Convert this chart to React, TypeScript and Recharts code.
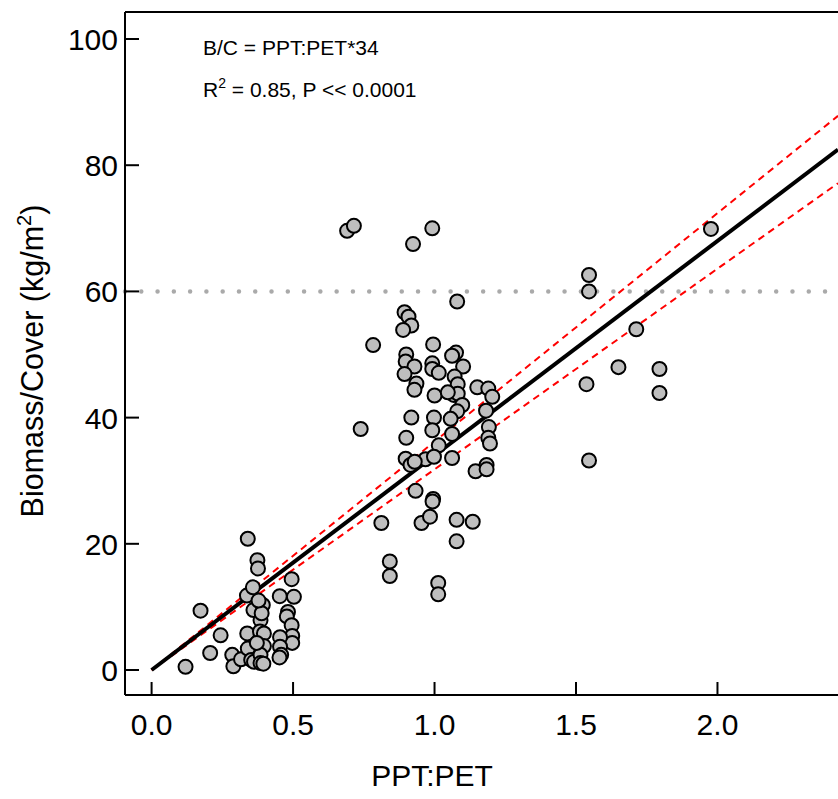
import React from 'react';
import { ScatterChart, Scatter, XAxis, YAxis, ReferenceLine } from 'recharts';

// PPT:PET ratio (x) and Biomass/Cover in kg/m2 (y)
const pptPet = [
  0.120, 0.173, 0.207, 0.244, 0.285, 0.289, 0.316, 0.340, 0.337, 0.358,
  0.338, 0.340, 0.352, 0.360, 0.362, 0.374, 0.376, 0.385, 0.383, 0.393,
  0.389, 0.397, 0.397, 0.385, 0.385, 0.395, 0.372, 0.453, 0.503, 0.495,
  0.482, 0.478, 0.495, 0.497, 0.497, 0.454, 0.454, 0.458, 0.452, 0.378,
  0.691, 0.715, 0.924, 0.992, 1.080, 0.894, 0.908, 0.918, 0.889, 0.783,
  0.995, 0.900, 1.076, 1.062, 0.898, 0.929, 0.992, 0.992, 1.015, 1.101,
  0.894, 1.071, 1.082, 0.936, 0.929, 1.151, 1.190, 1.204, 1.000, 1.068,
  1.082, 1.098, 1.080, 1.182, 0.918, 0.998, 0.992, 0.739, 1.192, 1.190,
  1.196, 0.900, 1.062, 1.015, 1.057, 0.968, 0.898, 1.062, 0.998, 0.915,
  0.930, 1.145, 1.184, 1.184, 0.933, 0.995, 0.993, 0.812, 0.954, 0.984,
  1.078, 1.135, 1.078, 0.842, 0.842, 1.013, 1.013, 1.047,
  1.977, 1.546, 1.546, 1.713, 1.650, 1.795, 1.537, 1.795, 1.546,
];
const biomassCover = [
  0.5, 9.4, 2.7, 5.5, 2.4, 0.6, 1.7, 20.8, 11.8, 13.1,
  5.8, 3.4, 1.6, 9.5, 1.3, 17.4, 16.1, 7.9, 6.1, 10.3,
  9.0, 5.8, 3.8, 2.4, 1.1, 1.0, 4.3, 11.7, 11.6, 14.4,
  9.2, 8.5, 7.1, 5.4, 4.3, 5.2, 3.7, 2.4, 2.0, 11.0,
  69.6, 70.4, 67.5, 70.0, 58.4, 56.7, 56.0, 54.6, 53.9, 51.5,
  51.6, 50.0, 50.3, 49.8, 48.9, 48.1, 48.6, 47.7, 47.1, 48.1,
  46.9, 46.5, 45.3, 45.4, 44.4, 44.8, 44.6, 43.3, 43.5, 43.6,
  43.8, 42.0, 41.0, 41.1, 40.0, 40.0, 38.0, 38.2, 38.5, 36.8,
  35.9, 36.8, 37.4, 35.6, 39.8, 33.4, 33.5, 33.6, 33.8, 32.5,
  33.0, 31.5, 32.5, 31.8, 28.4, 27.1, 26.7, 23.3, 23.3, 24.3,
  23.8, 23.5, 20.4, 17.2, 14.9, 13.8, 12.0, 44.0,
  69.9, 62.6, 60.0, 54.0, 48.0, 47.7, 45.3, 43.9, 33.2,
];

const xTicks = [0, 0.5, 1.0, 1.5, 2.0];
const yTicks = [0, 20, 40, 60, 80, 100];
const xDomain: [number, number] = [-0.094, 2.426];
const yDomain: [number, number] = [-3.96, 104.28];

const fitSlope = 34;
const upperSlope = 36.2;
const lowerSlope = 31.8;
const thresholdY = 60;

const points = pptPet.map((x, i) => ({ x, y: biomassCover[i] }));

const FONT = "'Liberation Sans', Arial, Helvetica, sans-serif";

const XTick = (props: any) => {
  const { x, y, payload } = props;
  return (
    <g>
      <line x1={x} x2={x} y1={y} y2={y - 13} stroke="#000" strokeWidth={2} />
      <text x={x} y={y + 40} textAnchor="middle" fontSize={30} fontFamily={FONT} fill="#000">
        {Number(payload.value).toFixed(1)}
      </text>
    </g>
  );
};

const YTick = (props: any) => {
  const { x, y, payload } = props;
  return (
    <g>
      <line x1={x} x2={x + 14} y1={y} y2={y} stroke="#000" strokeWidth={2} />
      <text x={x - 7} y={y + 11} textAnchor="end" fontSize={30} fontFamily={FONT} fill="#000">
        {payload.value}
      </text>
    </g>
  );
};

const XLabel = () => (
  <g>
    <text x={432} y={786} textAnchor="middle" fontSize={30} fontFamily={FONT} fill="#000">
      PPT:PET
    </text>
    <text x={203} y={55} fontSize={21} fontFamily={FONT} fill="#000">
      B/C = PPT:PET*34
    </text>
    <text x={203} y={97} fontSize={21} fontFamily={FONT} fill="#000">
      R<tspan dy={-9} fontSize={14}>2</tspan>
      <tspan dy={9}> = 0.85, P &lt;&lt; 0.0001</tspan>
    </text>
  </g>
);

const YLabel = () => (
  <text
    x={43}
    y={361}
    transform="rotate(-90, 43, 361)"
    textAnchor="middle"
    fontSize={30.5}
    fontFamily={FONT}
    fill="#000"
  >
    Biomass/Cover (kg/m<tspan dy={-12} fontSize={20}>2</tspan>
    <tspan dy={12}>)</tspan>
  </text>
);

const Dot = (p: any) => (
  <circle cx={p.cx} cy={p.cy} r={7} fill="#bebebe" stroke="#000" strokeWidth={2} />
);

export default function App() {
  const xEnd = xDomain[1];
  return (
    <div style={{ position: 'absolute', left: 0, top: 0, width: 838, height: 799, background: '#fff' }}>
      <ScatterChart width={838} height={799} margin={{ top: 12, right: 0, bottom: 0, left: 0 }}>
        <XAxis
          dataKey="x"
          type="number"
          domain={xDomain}
          ticks={xTicks}
          allowDataOverflow
          height={104}
          tickSize={0}
          tickMargin={0}
          tickLine={false}
          axisLine={{ stroke: '#000', strokeWidth: 2 }}
          tick={XTick}
          label={{ content: XLabel }}
        />
        <YAxis
          dataKey="y"
          type="number"
          domain={yDomain}
          ticks={yTicks}
          allowDataOverflow
          width={125}
          tickSize={0}
          tickMargin={0}
          tickLine={false}
          axisLine={{ stroke: '#000', strokeWidth: 2 }}
          tick={YTick}
          label={{ content: YLabel }}
        />
        <ReferenceLine
          y={thresholdY}
          stroke="#aaaaaa"
          strokeWidth={4.5}
          strokeDasharray="0 16.28"
          strokeLinecap="round"
        />
        <ReferenceLine y={yDomain[1]} stroke="#000" strokeWidth={2} />
        <Scatter data={points} shape={Dot} isAnimationActive={false} />
        <ReferenceLine
          segment={[{ x: 0, y: 0 }, { x: xEnd, y: upperSlope * xEnd }]}
          stroke="#ff0000"
          strokeWidth={2}
          strokeDasharray="7 5"
        />
        <ReferenceLine
          segment={[{ x: 0, y: 0 }, { x: xEnd, y: lowerSlope * xEnd }]}
          stroke="#ff0000"
          strokeWidth={2}
          strokeDasharray="7 5"
        />
        <ReferenceLine
          segment={[{ x: 0, y: 0 }, { x: xEnd, y: fitSlope * xEnd }]}
          stroke="#000"
          strokeWidth={4}
        />
      </ScatterChart>
    </div>
  );
}
